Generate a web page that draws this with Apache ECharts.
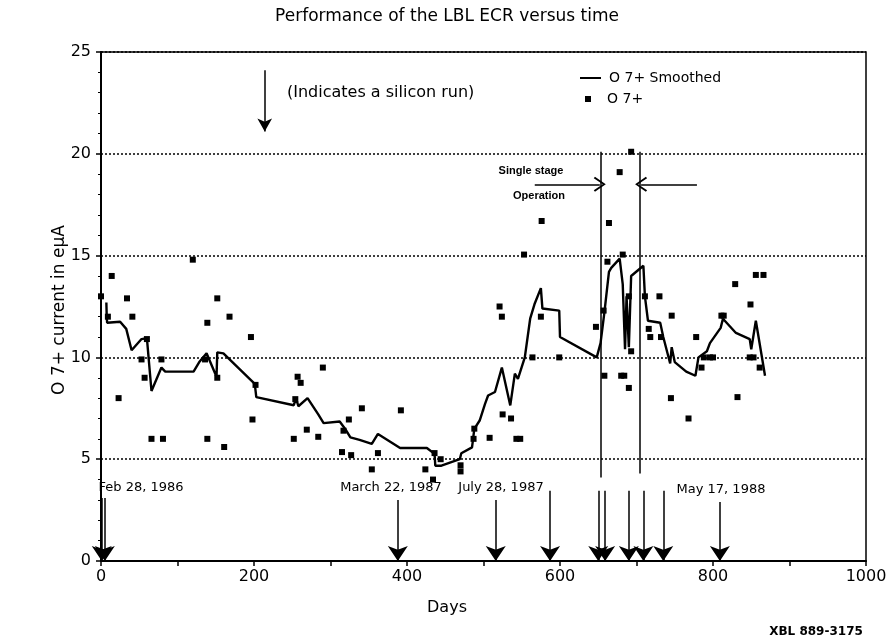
<!DOCTYPE html>
<html>
<head>
<meta charset="utf-8">
<script src="https://cdn.jsdelivr.net/npm/echarts@6/dist/echarts.min.js"></script>
<style>
  html, body { margin: 0; padding: 0; background: #fff; }
  #chart { width: 891px; height: 640px; }
</style>
</head>
<body>
<div id="chart"></div>
<script>
// measured O7+ current (eμA) against days
const pointDays = [0, 9, 14, 23, 34, 41, 53, 57, 60, 66, 79, 81, 120, 136, 139, 139, 152, 152, 161, 168,
  196, 198, 202, 252, 254, 257, 261, 269, 284, 290, 315, 317, 324, 327, 341, 354, 362, 392, 424, 434,
  436, 444, 470, 470, 487, 488, 508, 521, 524, 525, 536, 543, 548, 553, 564, 575, 576, 599, 647, 657,
  658, 662, 664, 678, 680, 682, 684, 690, 690, 693, 693, 711, 716, 718, 730, 732, 745, 746, 768, 778,
  785, 788, 796, 800, 811, 814, 829, 832, 848, 849, 853, 856, 861, 866];
const pointVals = [13, 12, 14, 8, 12.9, 12, 9.9, 9, 10.9, 6, 9.9, 6, 14.8, 9.9, 11.7, 6, 12.9, 9, 5.6, 12,
  11, 6.95, 8.65, 6, 7.95, 9.05, 8.75, 6.45, 6.1, 9.5, 5.35, 6.4, 6.95, 5.2, 7.5, 4.5, 5.3, 7.4, 4.5, 4.0,
  5.3, 5.0, 4.7, 4.4, 6.0, 6.5, 6.05, 12.5, 12.0, 7.2, 7.0, 6.0, 6.0, 15.05, 10, 12, 16.7, 10, 11.5, 12.3,
  9.1, 14.7, 16.6, 19.1, 9.1, 15.05, 9.1, 8.5, 13, 20.1, 10.3, 13, 11.4, 11, 13, 11, 8, 12.05, 7, 11,
  9.5, 10, 10, 10, 12.05, 12.05, 13.6, 8.05, 10, 12.6, 10, 14.05, 9.5, 14.05];

// smoothed curve
const smoothDays = [7, 7.5, 8, 25, 33, 40, 53, 60, 66, 79, 84, 121, 129, 138, 151, 152, 160, 201, 203, 252,
  255, 258, 270, 284, 291, 312, 319, 326, 338, 354, 362, 391, 426, 436, 437, 445, 469, 471, 485, 488,
  495, 502, 506, 515, 524, 535, 541, 545, 554, 561, 567, 575, 577, 599, 600, 648, 653, 658, 660, 664,
  667, 678, 682, 685, 687, 690, 693, 709, 711, 715, 731, 735, 744, 746, 750, 765, 777, 781, 792, 796,
  810, 813, 830, 848, 850, 856, 868];
const smoothVals = [12.7, 12.0, 11.7, 11.75, 11.4, 10.35, 10.9, 10.95, 8.35, 9.5, 9.3, 9.3, 9.8, 10.2, 9.05, 10.25, 10.2, 8.7, 8.05, 7.65,
  8.0, 7.6, 8.0, 7.2, 6.77, 6.85, 6.5, 6.07, 5.95, 5.75, 6.24, 5.55, 5.55, 5.26, 4.68, 4.68, 5.0, 5.29, 5.58, 6.49,
  6.9, 7.72, 8.13, 8.3, 9.5, 7.64, 9.2, 8.95, 10.0, 11.9, 12.65, 13.4, 12.4, 12.3, 11.0, 10.0, 10.7, 12.2, 12.2, 14.2,
  14.4, 14.85, 13.6, 10.4, 13.0, 10.5, 14.0, 14.5, 13.0, 11.8, 11.7, 11.0, 9.7, 10.5, 9.77, 9.3, 9.1, 10.0, 10.3, 10.7,
  11.45, 11.9, 11.2, 10.9, 10.4, 11.8, 9.1];

// silicon runs (arrows down to the axis)
const runDays = [1, 5, 388, 516, 587, 650, 659, 690, 709, 735, 809];
const runTops = [3.1, 3.1, 3.0, 3.0, 3.45, 3.45, 3.45, 3.45, 3.45, 3.45, 2.9];

// single stage operation window
const stageDays = [653, 704];
const stageBottoms = [4.1, 4.3];
const stageTop = 20.1;
const stageArrowY = 18.5;

const xTicks = [0, 200, 400, 600, 800, 1000];
const yTicks = [0, 5, 10, 15, 20, 25];

const font = '"DejaVu Sans", "Liberation Sans", Arial, sans-serif';
const narrow = '"Liberation Sans", Arial, sans-serif';
const chart = echarts.init(document.getElementById('chart'));

const runLines = runDays.map((d, i) => [
  { coord: [d, runTops[i]], symbol: 'none' },
  { coord: [d, 0], symbol: 'arrow', symbolSize: [15, 15] }
]);
const stageLines = stageDays.map((d, i) => [
  { coord: [d, stageTop], symbol: 'none' },
  { coord: [d, stageBottoms[i]], symbol: 'none' }
]);
const chevron = 'path://M5,0 L10,9 L9,10 L5,2.5 L1,10 L0,9 Z';
const stageArrows = [
  [{ coord: [567, stageArrowY], symbol: 'none' }, { coord: [stageDays[0] - 1, stageArrowY], symbol: chevron, symbolSize: [15, 12] }],
  [{ coord: [779, stageArrowY], symbol: 'none' }, { coord: [stageDays[1] + 2, stageArrowY], symbol: chevron, symbolSize: [15, 12] }]
];
const keyArrow = [
  [{ coord: [214, 24.1], symbol: 'none' }, { coord: [214, 21.1], symbol: 'arrow', symbolSize: [11, 13] }]
];

const txt = (x, y, s, size, extra) => Object.assign({
  type: 'text', x: x, y: y, silent: true,
  style: Object.assign({ text: s, font: size + 'px ' + font, fill: '#000', align: 'left', verticalAlign: 'middle' }, extra || {})
});

chart.setOption({
  animation: false,
  backgroundColor: '#fff',
  grid: { left: 101, right: 25, top: 52, bottom: 79, show: true, borderColor: '#000', borderWidth: 1.5 },
  xAxis: {
    type: 'value', min: 0, max: 1000, interval: 200,
    axisLine: { lineStyle: { color: '#000', width: 2 } },
    axisTick: { inside: false, length: 5, lineStyle: { color: '#000', width: 1.5 } },
    minorTick: { show: true, splitNumber: 2, length: 5, lineStyle: { color: '#000', width: 1.5 } },
    axisLabel: { color: '#000', fontSize: 16, fontFamily: font, margin: 8,
      formatter: v => xTicks.indexOf(v) >= 0 ? String(v) : '' },
    splitLine: { show: false }
  },
  yAxis: {
    type: 'value', min: 0, max: 25, interval: 5,
    axisLine: { show: true, lineStyle: { color: '#000', width: 2 } },
    axisTick: { show: true, length: 5, lineStyle: { color: '#000', width: 1.5 } },
    minorTick: { show: true, splitNumber: 5, length: 3, lineStyle: { color: '#000', width: 1 } },
    axisLabel: { color: '#000', fontSize: 16, fontFamily: font, margin: 10,
      formatter: v => yTicks.indexOf(v) >= 0 ? String(v) : '' },
    splitLine: { show: true, lineStyle: { color: '#000', width: 1.5, type: [2, 2] } }
  },
  legend: [
    { data: [{ name: 'O 7+ Smoothed', icon: 'rect' }], left: 575, top: 66, itemWidth: 21, itemHeight: 2,
      textStyle: { fontSize: 14, fontFamily: font, color: '#000', padding: [0, 0, 0, 3] } },
    { data: ['O 7+'], left: 580, top: 87, itemWidth: 6, itemHeight: 6,
      textStyle: { fontSize: 14, fontFamily: font, color: '#000', padding: [0, 0, 0, 11] } }
  ],
  series: [
    {
      name: 'O 7+ Smoothed', type: 'line', symbol: 'none',
      lineStyle: { color: '#000', width: 2.4 }, itemStyle: { color: '#000' },
      data: smoothDays.map((d, i) => [d, smoothVals[i]]), z: 3
    },
    {
      name: 'O 7+', type: 'scatter', symbol: 'rect', symbolSize: 6,
      itemStyle: { color: '#000', opacity: 1 },
      data: pointDays.map((d, i) => [d, pointVals[i]]), z: 4
    },
    {
      name: 'notes', type: 'line', data: [], silent: true,
      markLine: {
        silent: true, animation: false, label: { show: false },
        lineStyle: { color: '#000', width: 1.5, type: 'solid' },
        emphasis: { disabled: true },
        data: runLines.concat(stageLines, stageArrows, keyArrow)
      }
    }
  ],
  graphic: [
    txt(447, 17, 'Performance of the LBL ECR versus time', 17, { align: 'center' }),
    txt(287, 93, '(Indicates a silicon run)', 16),
    txt(141, 488, 'Feb 28, 1986', 13, { align: 'center' }),
    txt(391, 488, 'March 22, 1987', 13, { align: 'center' }),
    txt(501, 488, 'July 28, 1987', 13, { align: 'center' }),
    txt(721, 490, 'May 17, 1988', 13, { align: 'center' }),
    txt(531, 171, 'Single stage', 11, { align: 'center', font: 'bold 11px ' + narrow }),
    txt(539, 196, 'Operation', 11, { align: 'center', font: 'bold 11px ' + narrow }),
    txt(447, 608, 'Days', 16, { align: 'center' }),
    txt(816, 632, 'XBL 889-3175', 12, { align: 'center', font: 'bold 12px ' + font }),
    { type: 'text', x: 60, y: 310, rotation: Math.PI / 2, silent: true,
      style: { text: 'O 7+ current in eμA', font: '17px ' + font, fill: '#000', align: 'center', verticalAlign: 'middle' } }
  ]
});
</script>
</body>
</html>
